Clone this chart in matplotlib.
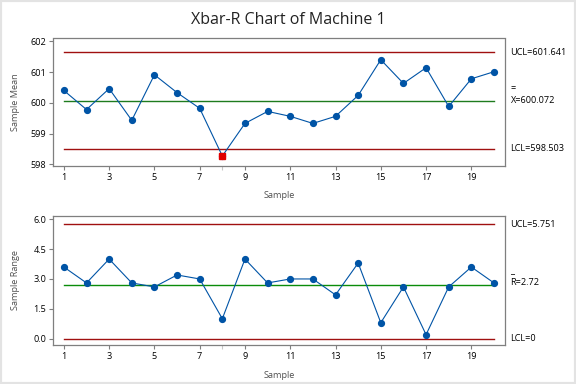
import matplotlib
matplotlib.use("Agg")
import matplotlib.pyplot as plt
from matplotlib.patches import Rectangle

plt.rcParams['font.family'] = ['Open Sans', 'DejaVu Sans']

samples = list(range(1, 21))
means = [600.40, 599.78, 600.46, 599.43, 600.91, 600.33, 599.82, 598.27, 599.33, 599.72,
         599.56, 599.33, 599.56, 600.24, 601.40, 600.63, 601.14, 599.88, 600.78, 601.01]
ranges = [3.6, 2.8, 4.0, 2.8, 2.6, 3.2, 3.0, 1.0, 4.0, 2.8,
          3.0, 3.0, 2.2, 3.8, 0.8, 2.6, 0.2, 2.6, 3.6, 2.8]
xbar_ucl, xbar_center, xbar_lcl = 601.641, 600.072, 598.503
r_ucl, r_center, r_lcl = 5.751, 2.72, 0.0
out_of_control = [8]
mean_yticks = [598, 599, 600, 601, 602]
range_yticks = [0.0, 1.5, 3.0, 4.5, 6.0]
xticks = [1, 3, 5, 7, 9, 11, 13, 15, 17, 19]

W, H = 576, 384
fig = plt.figure(figsize=(W / 100, H / 100), dpi=100)
fig.patch.set_facecolor('white')
fig.patches.append(Rectangle((0, 0), 1, 1, transform=fig.transFigure, fill=False,
                             edgecolor='#e3e3e3', linewidth=3, zorder=10))

blue = '#0054A6'
dred = '#A01010'
green_top = '#1E7B1E'
green_bot = '#0A8C0A'
spine_c = '#7f7f7f'
label_c = '#505050'
fs = 6.6

def style(ax, yticks, ylim, fmt):
    ax.set_xlim(0.52, 20.5)
    ax.set_ylim(*ylim)
    ax.set_xticks(xticks)
    ax.set_xticks([8], minor=True)
    ax.set_yticks(yticks)
    ax.set_yticklabels([fmt.format(v) for v in yticks])
    for s in ax.spines.values():
        s.set_color(spine_c)
        s.set_linewidth(0.9)
    ax.tick_params(axis='both', which='major', labelsize=fs, length=3, width=0.8,
                   color=spine_c, pad=2, labelcolor='black')
    ax.tick_params(axis='x', which='minor', length=3, width=0.8, color='#c8c8c8')
    ax.set_xlabel('Sample', fontsize=fs, color=label_c, labelpad=3)
    ax.xaxis.set_label_coords(0.5, -0.2)

ax1 = fig.add_axes([53 / W, 1 - 165.7 / H, 452.3 / W, 127.2 / H])
ax2 = fig.add_axes([53 / W, 1 - 345 / H, 452.3 / W, 129.3 / H])

# Xbar chart
ax1.plot([1, 20], [xbar_ucl, xbar_ucl], color=dred, lw=1.0)
ax1.plot([1, 20], [xbar_lcl, xbar_lcl], color=dred, lw=1.0)
ax1.plot([1, 20], [xbar_center, xbar_center], color=green_top, lw=1.0)
ax1.plot(samples, means, color=blue, lw=0.8, marker='o', ms=4.2, zorder=3)
for s in out_of_control:
    ax1.plot([s], [means[s - 1]], marker='s', ms=4.2, color='#E00000', ls='none', zorder=4)
style(ax1, mean_yticks, (597.955, 602.09), '{:.0f}')
ax1.set_ylabel('Sample Mean', fontsize=fs, color=label_c, labelpad=6)

tx = 510.5 / W
ax1.text(tx, xbar_ucl, 'UCL=601.641', transform=ax1.get_yaxis_transform() if False else
         matplotlib.transforms.blended_transform_factory(fig.transFigure, ax1.transData),
         fontsize=fs, va='center', ha='left')
bt1 = matplotlib.transforms.blended_transform_factory(fig.transFigure, ax1.transData)
ax1.text(tx, xbar_lcl, 'LCL=598.503', transform=bt1, fontsize=fs, va='center', ha='left')
ax1.text(tx, xbar_center, 'X=600.072', transform=bt1, fontsize=fs, va='center', ha='left')
ax1.text(tx, xbar_center + 0.39, '=', transform=bt1, fontsize=fs, va='center', ha='left')

# R chart
ax2.plot([1, 20], [r_ucl, r_ucl], color=dred, lw=1.0)
ax2.plot([1, 20], [r_lcl, r_lcl], color=dred, lw=1.0)
ax2.plot([1, 20], [r_center, r_center], color=green_bot, lw=1.0)
ax2.plot(samples, ranges, color=blue, lw=0.8, marker='o', ms=4.2, zorder=3)
style(ax2, range_yticks, (-0.32, 6.18), '{:.1f}')
ax2.set_ylabel('Sample Range', fontsize=fs, color=label_c, labelpad=6)
bt2 = matplotlib.transforms.blended_transform_factory(fig.transFigure, ax2.transData)
ax2.text(tx, r_ucl, 'UCL=5.751', transform=bt2, fontsize=fs, va='center', ha='left')
ax2.text(tx, r_lcl, 'LCL=0', transform=bt2, fontsize=fs, va='center', ha='left')
ax2.text(tx, r_center + 0.1, 'R=2.72', transform=bt2, fontsize=fs, va='center', ha='left')
ax2.text(tx, r_center + 0.72, '_', transform=bt2, fontsize=fs, va='center', ha='left')

ax1.yaxis.set_label_coords(-0.072, 0.5)
ax2.yaxis.set_label_coords(-0.072, 0.5)

fig.text(0.5, 1 - 20.5 / H, 'Xbar-R Chart of Machine 1', ha='center', va='center',
         fontsize=11.5, color='#222222')

fig.savefig('out.png', dpi=100)
